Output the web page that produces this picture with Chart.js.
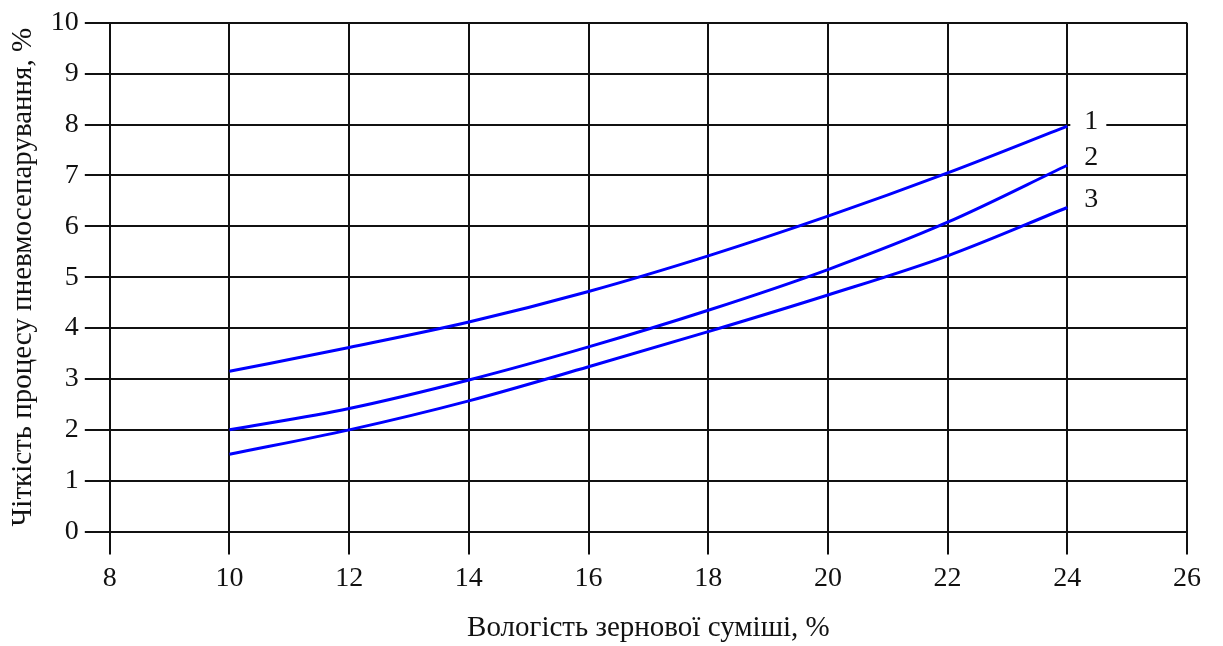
<!DOCTYPE html>
<html>
<head>
<meta charset="utf-8">
<script src="https://cdn.jsdelivr.net/npm/chart.js@4/dist/chart.umd.min.js"></script>
<style>
  html, body { margin: 0; padding: 0; background: #fff; }
  #wrap { width: 1223px; height: 646px; }
</style>
</head>
<body>
<div id="wrap"><canvas id="chart"></canvas></div>
<script>
var moisture = [10, 12, 14, 16, 18, 20, 22, 24];
var curve1 = [3.15, 3.62, 4.12, 4.72, 5.42, 6.2, 7.05, 7.97];
var curve2 = [2.0, 2.42, 2.98, 3.63, 4.35, 5.15, 6.08, 7.2];
var curve3 = [1.52, 2.0, 2.57, 3.24, 3.93, 4.65, 5.42, 6.37];
var curveLabels = ['1', '2', '3'];
var xTicks = [8, 10, 12, 14, 16, 18, 20, 22, 24, 26];
var yTicks = [0, 1, 2, 3, 4, 5, 6, 7, 8, 9, 10];

var serif = "'Liberation Serif', 'Times New Roman', serif";

function toPoints(ys) {
    return moisture.map(function(x, i) { return { x: x, y: ys[i] }; });
}

// numbers 1, 2, 3 at the right end of each curve
var endLabels = {
    id: 'endLabels',
    afterDatasetsDraw: function(chart) {
        var ctx = chart.ctx;
        var xs = chart.scales.x, ys = chart.scales.y;
        ctx.save();
        ctx.font = '28px ' + serif;
        ctx.textBaseline = 'middle';
        ctx.textAlign = 'left';
        chart.data.datasets.forEach(function(ds, i) {
            var last = ds.data[ds.data.length - 1];
            var px = xs.getPixelForValue(last.x) + 17;
            var py = ys.getPixelForValue(last.y) - (i === 0 ? 4 : 8);
            if (i === 0) {
                ctx.fillStyle = '#fff';
                ctx.fillRect(px - 14, py - 12, 36, 22);
            }
            ctx.fillStyle = '#111';
            ctx.fillText(curveLabels[i], px, py);
        });
        ctx.restore();
    }
};

var lineStyle = {
    borderColor: '#0000ff',
    borderWidth: 3,
    pointRadius: 0,
    fill: false,
    cubicInterpolationMode: 'monotone'
};

new Chart(document.getElementById('chart').getContext('2d'), {
    type: 'line',
    data: {
        datasets: [
            Object.assign({ label: curveLabels[0], data: toPoints(curve1) }, lineStyle),
            Object.assign({ label: curveLabels[1], data: toPoints(curve2) }, lineStyle),
            Object.assign({ label: curveLabels[2], data: toPoints(curve3) }, lineStyle)
        ]
    },
    options: {
        responsive: true,
        maintainAspectRatio: false,
        animation: false,
        layout: { padding: { top: 22, right: 36, bottom: 0, left: 6 } },
        plugins: {
            legend: { display: false },
            tooltip: { enabled: false }
        },
        scales: {
            x: {
                type: 'linear',
                min: 8,
                max: 26,
                afterBuildTicks: function(axis) {
                    axis.ticks = xTicks.map(function(v) { return { value: v }; });
                },
                grid: { color: '#111', lineWidth: 2, tickLength: 23 },
                border: { color: '#111', width: 2 },
                ticks: {
                    color: '#111',
                    font: { family: serif, size: 28 },
                    padding: 7,
                    maxRotation: 0
                },
                title: {
                    display: true,
                    text: 'Вологість зернової суміші, %',
                    color: '#111',
                    font: { family: serif, size: 29 },
                    padding: { top: 9, bottom: 0 }
                }
            },
            y: {
                type: 'linear',
                min: 0,
                max: 10,
                afterBuildTicks: function(axis) {
                    axis.ticks = yTicks.map(function(v) { return { value: v }; });
                },
                grid: { color: '#111', lineWidth: 2, tickLength: 25 },
                border: { color: '#111', width: 2 },
                ticks: {
                    color: '#111',
                    font: { family: serif, size: 28 },
                    padding: 6
                },
                title: {
                    display: true,
                    text: 'Чіткість процесу пневмосепарування, %',
                    color: '#111',
                    font: { family: serif, size: 29 },
                    padding: { top: 0, bottom: 4 }
                }
            }
        }
    },
    plugins: [endLabels]
});
</script>
</body>
</html>
